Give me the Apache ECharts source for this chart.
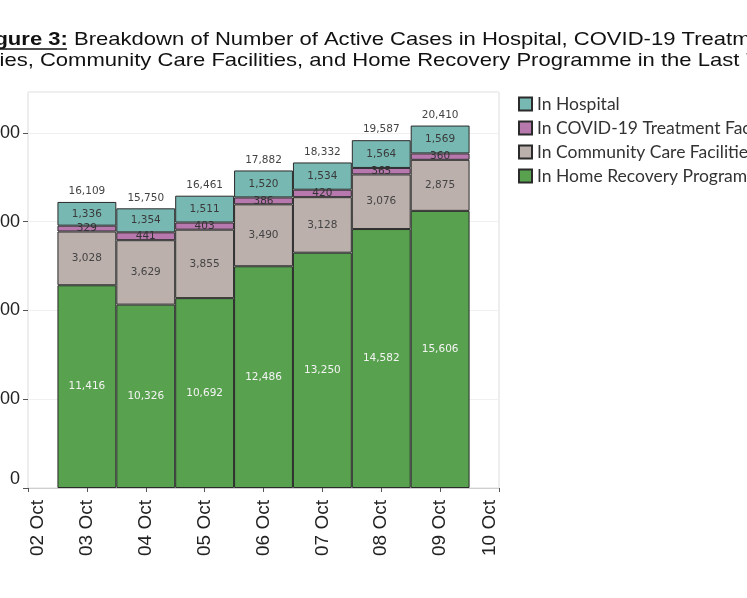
<!DOCTYPE html>
<html>
<head>
<meta charset="utf-8">
<script src="https://cdn.jsdelivr.net/npm/echarts@6/dist/echarts.min.js"></script>
<style>
  html, body { margin: 0; padding: 0; width: 747px; height: 598px; overflow: hidden; background: #fff; }
  /* the reference is a crop of a wider figure, so the chart is shifted left */
  #chart { position: absolute; left: -80px; top: 0; width: 1030px; height: 598px; }
</style>
</head>
<body>
<div id="chart"></div>
<script>
// axis ticks (one per day) and the days that have bars
var axisDays = ['02 Oct', '03 Oct', '04 Oct', '05 Oct', '06 Oct', '07 Oct', '08 Oct', '09 Oct', '10 Oct'];
var days = ['03 Oct', '04 Oct', '05 Oct', '06 Oct', '07 Oct', '08 Oct', '09 Oct'];

// active cases by place of care
var hospital = [1336, 1354, 1511, 1520, 1534, 1564, 1569];
var treatment = [329, 441, 403, 386, 420, 365, 360];
var community = [3028, 3629, 3855, 3490, 3128, 3076, 2875];
var homeRecovery = [11416, 10326, 10692, 12486, 13250, 14582, 15606];
var totals = [16109, 15750, 16461, 17882, 18332, 19587, 20410];

var seriesNames = ['In Home Recovery Programme', 'In Community Care Facilities',
                   'In COVID-19 Treatment Facilities', 'In Hospital'];
var legendOrder = ['In Hospital', 'In COVID-19 Treatment Facilities',
                   'In Community Care Facilities', 'In Home Recovery Programme'];

var titleLines = ['{b|Figure 3:} Breakdown of Number of Active Cases in Hospital, COVID-19 Treatment',
                  'Facilities, Community Care Facilities, and Home Recovery Programme in the Last 7 Days'];

var OFF = 80; // horizontal shift of the div

// put a 7-day array onto the 9 tick axis
function onAxis(values) {
    return axisDays.map(function (d) {
        var i = days.indexOf(d);
        return i < 0 ? '-' : values[i];
    });
}

function fmt(v) {
    return Number(v).toLocaleString('en-US');
}

function barSeries(name, values, color, labelColor) {
    return {
        name: name,
        type: 'bar',
        stack: 'cases',
        barWidth: '100%',
        data: onAxis(values),
        itemStyle: { color: color, borderColor: '#2b2b2b', borderWidth: 1 },
        label: {
            show: true,
            position: 'inside',
            color: labelColor,
            fontFamily: 'DejaVu Sans',
            fontSize: 10.5,
            formatter: function (p) { return fmt(p.value); }
        },
        emphasis: { disabled: true }
    };
}

// title line, the figure font is a little wider than Liberation Sans
function titleText(text, y) {
    return {
        type: 'text',
        x: 378 + OFF,
        y: y,
        scaleX: 1.16,
        silent: true,
        style: {
            text: text,
            align: 'center',
            verticalAlign: 'middle',
            fontFamily: 'Liberation Sans',
            fontSize: 19,
            fill: '#111',
            rich: {
                b: { fontFamily: 'Liberation Sans', fontSize: 19, fontWeight: 'bold', fill: '#111' }
            }
        }
    };
}

var chart = echarts.init(document.getElementById('chart'));

var option = {
    animation: false,
    legend: {
        left: 513 + OFF,
        top: 90,
        orient: 'vertical',
        icon: 'rect',
        itemWidth: 13,
        itemHeight: 13,
        itemGap: 6,
        data: legendOrder,
        selectedMode: false,
        textStyle: { fontFamily: 'Lato', fontSize: 17.5, color: '#333' }
    },
    grid: {
        left: 28 + OFF,
        top: 92,
        width: 471,
        height: 396,
        show: true,
        borderColor: '#dcdcdc',
        borderWidth: 1
    },
    xAxis: {
        type: 'category',
        data: axisDays,
        boundaryGap: false,
        axisLine: { show: true, lineStyle: { color: '#cfcfcf' } },
        axisTick: { show: true, length: 4, lineStyle: { color: '#555' } },
        axisLabel: {
            rotate: 90,
            margin: 12,
            interval: 0,
            fontFamily: 'Liberation Sans',
            fontSize: 19,
            color: '#222',
            verticalAlignMinLabel: 'top',
            verticalAlignMaxLabel: 'bottom'
        },
        splitLine: { show: false }
    },
    yAxis: {
        type: 'value',
        min: 0,
        max: 22300,
        interval: 5000,
        axisLine: { show: false },
        axisTick: { show: true, length: 5, lineStyle: { color: '#555' } },
        axisLabel: {
            margin: 8,
            fontFamily: 'Liberation Sans',
            fontSize: 18,
            color: '#222',
            showMaxLabel: false,
            verticalAlignMinLabel: 'bottom',
            formatter: function (v) { return fmt(v); }
        },
        splitLine: { show: true, lineStyle: { color: '#f0f0f0' } }
    },
    series: [
        barSeries(seriesNames[0], homeRecovery, '#58a14e', '#f4f4f4'),
        barSeries(seriesNames[1], community, '#bbb0ac', '#444'),
        barSeries(seriesNames[2], treatment, '#b779ad', '#333'),
        barSeries(seriesNames[3], hospital, '#78b8b3', '#3a3a3a'),
        {
            // zero-height cap carrying the day total
            name: 'Total',
            type: 'bar',
            stack: 'cases',
            barWidth: '100%',
            data: onAxis(totals.map(function () { return 0; })),
            itemStyle: { color: 'transparent', borderWidth: 0 },
            label: {
                show: true,
                position: 'top',
                distance: 5,
                color: '#444',
                fontFamily: 'DejaVu Sans',
                fontSize: 10.5,
                formatter: function (p) { return fmt(totals[days.indexOf(axisDays[p.dataIndex])]); }
            },
            emphasis: { disabled: true }
        }
    ],
    graphic: [
        titleText(titleLines[0], 40),
        titleText(titleLines[1], 60.5),
        {
            // underline of "Figure 3:"
            type: 'line',
            shape: { x1: OFF - 40, y1: 49, x2: OFF + 67, y2: 49 },
            style: { stroke: '#111', lineWidth: 1.5 },
            silent: true
        }
    ]
};

chart.setOption(option);
</script>
</body>
</html>
